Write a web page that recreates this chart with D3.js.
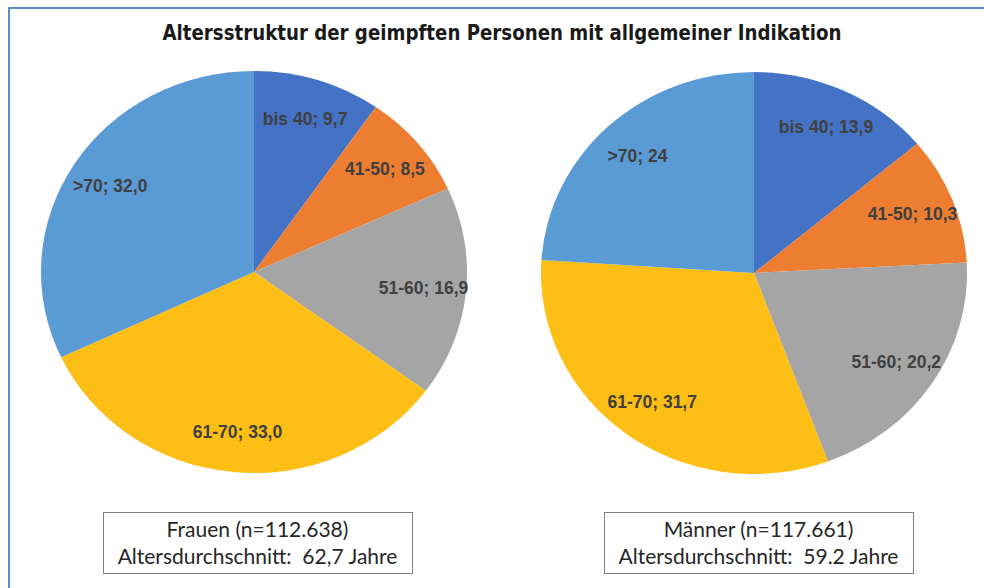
<!DOCTYPE html>
<html>
<head>
<meta charset="utf-8">
<script src="https://cdn.jsdelivr.net/npm/d3@7"></script>
<style>
  body { margin: 0; background: #fff; }
  svg { display: block; }
</style>
</head>
<body>
<div id="chart"></div>
<script>
// data
const categories = ["bis 40", "41-50", "51-60", "61-70", ">70"];
const womenValues = [9.7, 8.5, 16.9, 33.0, 32.0];
const womenLabels = ["9,7", "8,5", "16,9", "33,0", "32,0"];
const menValues = [13.9, 10.3, 20.2, 31.7, 24];
const menLabels = ["13,9", "10,3", "20,2", "31,7", "24"];
const groupTitles = ["Frauen (n=112.638)", "Männer (n=117.661)"];
const groupAverages = ["Altersdurchschnitt:  62,7 Jahre", "Altersdurchschnitt:  59.2 Jahre"];
const colors = ["#4472c4", "#ed7d31", "#a5a5a5", "#fdbf15", "#5b9bd5"];

const width = 984, height = 588;

const svg = d3.select("#chart").append("svg")
    .attr("width", width)
    .attr("height", height);

// blue frame
svg.append("rect")
    .attr("x", 9).attr("y", 8)
    .attr("width", 1000).attr("height", 600)
    .attr("fill", "none")
    .attr("stroke", "#1f6bbd")
    .attr("stroke-width", 1.5);

svg.append("text")
    .attr("x", 502).attr("y", 40)
    .attr("text-anchor", "middle")
    .attr("font-family", "'DejaVu Sans Condensed', 'Liberation Sans Narrow', sans-serif")
    .attr("font-weight", "bold")
    .attr("font-size", 21)
    .attr("textLength", 679)
    .attr("lengthAdjust", "spacingAndGlyphs")
    .attr("fill", "#1a1a1a")
    .text("Altersstruktur der geimpften Personen mit allgemeiner Indikation");

const color = d3.scaleOrdinal(categories, colors);
const pie = d3.pie().value(d => d.value).sort(null);

const ry = 201, rx = 213;
const sx = rx / ry;
const arc = d3.arc().innerRadius(0).outerRadius(ry);
const labelArc = d3.arc().innerRadius(ry * 0.8).outerRadius(ry * 0.8);

const pies = [
    {cx: 254, cy: 272, values: womenValues, labels: womenLabels, boxX: 103},
    {cx: 754, cy: 273, values: menValues, labels: menLabels, boxX: 604}
];

pies.forEach((p, gi) => {
    const data = categories.map((c, i) => ({cat: c, value: p.values[i], label: p.labels[i]}));
    const arcsData = pie(data);

    const g = svg.append("g")
        .attr("transform", `translate(${p.cx},${p.cy})`);

    // slices, stretched into the slightly wide ellipse of the original
    g.append("g")
        .attr("transform", `scale(${sx},1)`)
        .selectAll("path")
        .data(arcsData)
        .enter().append("path")
        .attr("d", arc)
        .attr("fill", d => color(d.data.cat));

    g.selectAll(".lbl")
        .data(arcsData)
        .enter().append("text")
        .attr("class", "lbl")
        .attr("x", d => labelArc.centroid(d)[0] * sx)
        .attr("y", d => labelArc.centroid(d)[1])
        .attr("dy", "0.35em")
        .attr("text-anchor", "middle")
        .attr("font-family", "'Liberation Sans', Arial, sans-serif")
        .attr("font-weight", "bold")
        .attr("font-size", 17.5)
        .attr("fill", "#404040")
        .text(d => `${d.data.cat}; ${d.data.label}`);

    // info box
    const bx = p.boxX, by = 512, bw = 309, bh = 61;
    svg.append("rect")
        .attr("x", bx + 0.5).attr("y", by + 0.5)
        .attr("width", bw).attr("height", bh)
        .attr("fill", "#fff")
        .attr("stroke", "#7f7f7f")
        .attr("stroke-width", 1);

    svg.append("text")
        .attr("x", bx + bw / 2).attr("y", 537)
        .attr("text-anchor", "middle")
        .attr("font-family", "Lato, 'Open Sans', sans-serif")
        .attr("font-size", 21)
        .attr("fill", "#262626")
        .text(groupTitles[gi]);

    svg.append("text")
        .attr("x", bx + bw / 2).attr("y", 564)
        .attr("text-anchor", "middle")
        .attr("font-family", "Lato, 'Open Sans', sans-serif")
        .attr("font-size", 21)
        .attr("fill", "#262626")
        .style("white-space", "pre")
        .text(groupAverages[gi]);
});
</script>
</body>
</html>
